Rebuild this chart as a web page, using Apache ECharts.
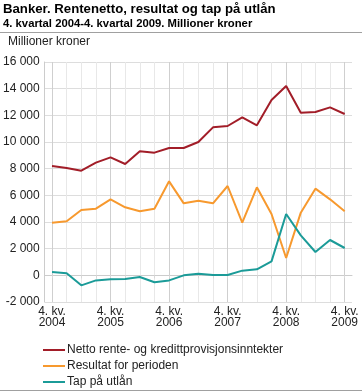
<!DOCTYPE html>
<html>
<head>
<meta charset="utf-8">
<script src="https://cdn.jsdelivr.net/npm/echarts@6/dist/echarts.min.js"></script>
<style>
html,body{margin:0;padding:0;background:#fff;}
#chart{width:362px;height:392px;}
</style>
</head>
<body>
<div id="chart"></div>
<script>
const categories = [
  '4. kv.\n2004','1. kv.\n2005','2. kv.\n2005','3. kv.\n2005','4. kv.\n2005',
  '1. kv.\n2006','2. kv.\n2006','3. kv.\n2006','4. kv.\n2006',
  '1. kv.\n2007','2. kv.\n2007','3. kv.\n2007','4. kv.\n2007',
  '1. kv.\n2008','2. kv.\n2008','3. kv.\n2008','4. kv.\n2008',
  '1. kv.\n2009','2. kv.\n2009','3. kv.\n2009','4. kv.\n2009'
];
const seriesNames = ['Netto rente- og kredittprovisjonsinntekter', 'Resultat for perioden', 'Tap på utlån'];
const rentenetto = [8200, 8050, 7850, 8450, 8850, 8350, 9300, 9200, 9550, 9550, 10000, 11100, 11200, 11850, 11250, 13150, 14200, 12200, 12250, 12600, 12100];
const resultat   = [3950, 4050, 4900, 5000, 5700, 5100, 4800, 5000, 7050, 5400, 5600, 5400, 6700, 3950, 6600, 4600, 1300, 4700, 6500, 5700, 4800];
const tap        = [250, 150, -750, -380, -300, -280, -130, -520, -380, 0, 120, 20, 20, 350, 450, 1050, 4600, 3000, 1750, 2650, 2050];
const yTicks = { min: -2000, max: 16000, interval: 2000 };
const colors = ['#a21d28', '#f7992e', '#1b9b98'];

const chart = echarts.init(document.getElementById('chart'), null, {renderer: 'canvas'});
const font = 'Liberation Sans, Arial, sans-serif';
chart.setOption({
  animation: false,
  textStyle: { fontFamily: font },
  title: {
    text: '{a|Banker. Rentenetto, resultat og tap på utlån}\n{b|4. kvartal 2004-4. kvartal 2009. Millioner kroner}',
    left: 3, top: 2, padding: 0,
    textStyle: {
      fontFamily: font, color: '#000',
      rich: {
        a: { fontSize: 13.2, fontWeight: 'bold', color: '#000', lineHeight: 15, fontFamily: font },
        b: { fontSize: 11.3, fontWeight: 'bold', color: '#000', lineHeight: 14, fontFamily: font }
      }
    }
  },
  graphic: [
    { type: 'line', shape: { x1: 0, y1: 32.5, x2: 362, y2: 32.5 }, style: { stroke: '#a0a0a0', lineWidth: 1 } },
    { type: 'line', shape: { x1: 0, y1: 390.5, x2: 362, y2: 390.5 }, style: { stroke: '#a0a0a0', lineWidth: 1 } },
    { type: 'text', left: 8, top: 36, style: { text: 'Millioner kroner', font: '12px ' + font, fill: '#222' } }
  ],
  legend: {
    orient: 'vertical', left: 43, top: 344, padding: 0,
    itemWidth: 22, itemHeight: 2, itemGap: 4, icon: 'rect',
    textStyle: { fontSize: 12, color: '#222', fontFamily: font, padding: [0,0,0,-3] },
    data: seriesNames
  },
  grid: { left: 44, right: 10, top: 62, bottom: 90, containLabel: false },
  xAxis: {
    type: 'category', data: categories, boundaryGap: true,
    axisLine: { show: true, lineStyle: { color: '#cccccc' } },
    axisTick: { show: true, alignWithLabel: true, interval: 0, length: 3, lineStyle: { color: '#d8d8d8' } },
    axisLabel: { interval: 3, color: '#222', fontSize: 12, lineHeight: 11, margin: 4, fontFamily: font },
    splitLine: { show: true, alignWithLabel: true, interval: 0, lineStyle: { color: ['#cfcfcf', '#e8e8e8', '#e8e8e8', '#e8e8e8'], width: 1 } }
  },
  yAxis: {
    type: 'value', min: yTicks.min, max: yTicks.max, interval: yTicks.interval,
    axisLine: { show: true, lineStyle: { color: '#cccccc' } },
    axisTick: { show: false },
    axisLabel: { color: '#222', fontSize: 12, margin: 5, fontFamily: font,
      formatter: v => String(v).replace(/\B(?=(\d{3})+(?!\d))/g, ' ') },
    splitLine: { show: true, lineStyle: { color: '#dddddd', width: 1 } }
  },
  series: [
    { name: seriesNames[0], type: 'line', data: rentenetto, symbol: 'none', lineStyle: { width: 2, color: colors[0] }, itemStyle: { color: colors[0] } },
    { name: seriesNames[1], type: 'line', data: resultat, symbol: 'none', lineStyle: { width: 2, color: colors[1] }, itemStyle: { color: colors[1] } },
    { name: seriesNames[2], type: 'line', data: tap, symbol: 'none', lineStyle: { width: 2, color: colors[2] }, itemStyle: { color: colors[2] } }
  ]
});
</script>
</body>
</html>
